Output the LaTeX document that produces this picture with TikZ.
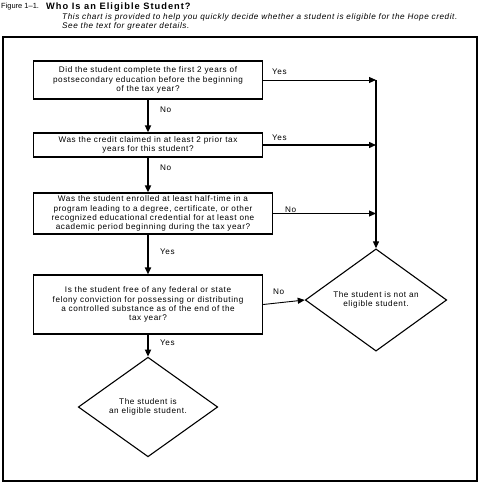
\documentclass[tikz,border=0pt]{standalone}
\usepackage{fontspec}
\setmainfont{Liberation Sans}
\newfontfamily\boxfont[LetterSpace=7]{Liberation Sans}
\newfontfamily\ttlfont[LetterSpace=11]{Liberation Sans}
\usetikzlibrary{shapes.geometric,arrows.meta}
\begin{document}
\begin{tikzpicture}[x=1bp,y=-1bp,
  every node/.style={font=\boxfont\fontsize{8.2}{9.2}\selectfont},
  qbox/.style={draw,line width=1.3bp,align=center,inner sep=0pt},
  endd/.style={draw,diamond,line width=1.1bp,align=center,inner sep=0pt},
  flow/.style={line width=1.6bp,-{Triangle[length=7bp,width=6bp]}},
  side/.style={line width=0.9bp,-{Triangle[length=7bp,width=6bp]}},
  lbl/.style={inner sep=0pt,anchor=west}]
\useasboundingbox (0,0) rectangle (479,484);
% title
\node[anchor=west,inner sep=0pt,font=\rmfamily\fontsize{7.5}{9}\selectfont] (fig) at (1,7) {Figure 1–1.};
\node[anchor=west,inner sep=0pt,font=\ttlfont\fontsize{9.3}{10}\selectfont\bfseries] (ttl) at (46,7) {Who Is an Eligible Student?};
\node[anchor=west,inner sep=0pt,font=\boxfont\fontsize{8.2}{9}\selectfont\itshape] (sub1) at (62,17.5) {This chart is provided to help you quickly decide whether a student is eligible for the Hope credit.};
\node[anchor=west,inner sep=0pt,font=\boxfont\fontsize{8.2}{9}\selectfont\itshape] (sub2) at (62,26.5) {See the text for greater details.};
% frame
\draw[line width=1.6bp] (3,37) rectangle (477,481);
% boxes
\node[qbox,minimum width=230,minimum height=38] (b1) at (148,80) {Did the student complete the first 2 years of\\postsecondary education before the beginning\\of the tax year?};
\node[qbox,minimum width=230,minimum height=24] (b2) at (148,145) {Was the credit claimed in at least 2 prior tax\\years for this student?};
\node[qbox,minimum width=240,minimum height=41] (b3) at (153,213.5) {Was the student enrolled at least half-time in a\\program leading to a degree, certificate, or other\\recognized educational credential for at least one\\academic period beginning during the tax year?};
\node[qbox,minimum width=230,minimum height=59] (b4) at (148,304.5) {Is the student free of any federal or state\\felony conviction for possessing or distributing\\a controlled substance as of the end of the\\tax year?};
\node[endd,minimum width=142,minimum height=100] (nd) at (376,300) {The student is not an\\eligible student.};
\node[endd,minimum width=140,minimum height=100] (yd) at (148,407) {The student is\\an eligible student.};
% main flow
\draw[flow] (b1.south -| yd.north) -- (b2.north -| yd.north);
\draw[flow] (b2.south -| yd.north) -- (b3.north -| yd.north);
\draw[flow] (b3.south -| yd.north) -- (b4.north -| yd.north);
\draw[flow] (b4.south -| yd.north) -- (yd.north);
% side arrows
\coordinate (j1) at (b1.east -| nd.north);
\draw[side] (b1.east) -- (j1);
\draw[side,line width=1.3bp] (b2.east) -- (b2.east -| nd.north);
\draw[side] (b3.east) -- (b3.east -| nd.north);
\draw[side] (b4.east) -- (nd.west);
\draw[line width=1.1bp,-{Triangle[length=7bp,width=6bp]}] (j1) -- (nd.north);
% labels
\node[lbl] (l1) at (272,72) {Yes};
\node[lbl] (l2) at (272,138) {Yes};
\node[lbl] (l3) at (285,210) {No};
\node[lbl] (l4) at (273,292) {No};
\node[lbl] (l5) at (160,110) {No};
\node[lbl] (l6) at (160,168) {No};
\node[lbl] (l7) at (160,252) {Yes};
\node[lbl] (l8) at (160,343) {Yes};
\end{tikzpicture}
\end{document}
